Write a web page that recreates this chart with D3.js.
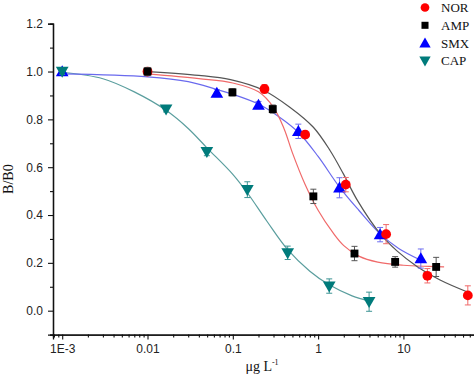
<!DOCTYPE html>
<html>
<head>
<meta charset="utf-8">
<script src="https://cdn.jsdelivr.net/npm/d3@7"></script>
<style>
  html, body { margin: 0; padding: 0; background: #fff; }
</style>
</head>
<body>
<div id="chart"></div>
<script>
// measured points (concentration in ug/L, B/B0, error)
const norX = [0.01, 0.235, 0.705, 2.11, 6.27, 19.1, 56.9]
const norY = [1.0, 0.927, 0.736, 0.527, 0.32, 0.146, 0.064]
const norErr = [0.015, 0.018, 0.015, 0.03, 0.04, 0.03, 0.04]

const ampX = [0.01, 0.099, 0.294, 0.88, 2.67, 8.0, 24.2]
const ampY = [1.0, 0.913, 0.843, 0.478, 0.239, 0.204, 0.183]
const ampErr = [0.017, 0.015, 0.017, 0.03, 0.03, 0.022, 0.04]

const smxX = [0.001, 0.065, 0.2, 0.587, 1.78, 5.33, 16.0]
const smxY = [1.0, 0.91, 0.86, 0.75, 0.514, 0.318, 0.218]
const smxErr = [0.012, 0.015, 0.015, 0.03, 0.042, 0.03, 0.04]

const capX = [0.001, 0.0165, 0.0496, 0.148, 0.44, 1.35, 3.96]
const capY = [1.0, 0.843, 0.665, 0.506, 0.242, 0.103, 0.0375]
const capErr = [0.012, 0.012, 0.017, 0.033, 0.028, 0.03, 0.04]

// fitted lines
const redFitX = [0.01, 0.04, 0.1, 0.2, 0.3, 0.4, 0.5, 0.7, 1.0, 1.5, 2.0, 3.0, 5.0, 10, 20, 30]
const redFitY = [0.99, 0.97, 0.952, 0.915, 0.85, 0.76, 0.66, 0.53, 0.42, 0.325, 0.272, 0.228, 0.203, 0.19, 0.185, 0.183]

const blackFitX = [0.01, 0.04, 0.094, 0.228, 0.47, 0.88, 1.38, 1.98, 2.9, 5.33, 8.4, 14.4, 26.9, 55.4]
const blackFitY = [1.0, 0.984, 0.966, 0.922, 0.85, 0.767, 0.67, 0.572, 0.46, 0.322, 0.25, 0.185, 0.128, 0.079]

const blueFitX = [0.001, 0.01, 0.03, 0.065, 0.1, 0.2, 0.35, 0.59, 1.0, 1.78, 3.0, 5.3, 8.8, 16]
const blueFitY = [0.99, 0.978, 0.958, 0.925, 0.905, 0.864, 0.81, 0.745, 0.645, 0.517, 0.42, 0.322, 0.26, 0.211]

const tealFitX = [0.001, 0.003, 0.007, 0.0165, 0.03, 0.05, 0.1, 0.15, 0.25, 0.44, 0.8, 1.35, 2.5, 4.0]
const tealFitY = [0.997, 0.97, 0.915, 0.838, 0.762, 0.68, 0.57, 0.49, 0.375, 0.255, 0.165, 0.108, 0.062, 0.04]

const xTickVals = [0.001, 0.01, 0.1, 1, 10]
const xTickLabels = ['1E-3', '0.01', '0.1', '1', '10']
const yTickVals = [0.0, 0.2, 0.4, 0.6, 0.8, 1.0, 1.2]
const legendNames = ['NOR', 'AMP', 'SMX', 'CAP']

const width = 474
const height = 375
const marginLeft = 53
const marginTop = 23.7
const marginBottom = 40.4

const svg = d3.select('#chart')
  .append('svg')
  .attr('width', width)
  .attr('height', height)
  .style('background-color', '#fff')

const xScale = d3.scaleLog()
  .domain([0.00078, 70])
  .range([marginLeft, 475.5])

const yScale = d3.scaleLinear()
  .domain([-0.1, 1.2])
  .range([height - marginBottom, marginTop])

// minor ticks
const xMinor = []
for (let e = -4; e <= 1; e++) {
  for (let m = 2; m <= 9; m++) {
    const v = m * Math.pow(10, e)
    if (v >= 0.00078 && v <= 70) xMinor.push(v)
  }
}
const yMinor = [-0.1, 0.1, 0.3, 0.5, 0.7, 0.9, 1.1]

const xAxisY = yScale(-0.1)

svg.append('g')
  .attr('transform', 'translate(0,' + xAxisY + ')')
  .call(d3.axisBottom(xScale).tickValues(xMinor).tickSize(3).tickFormat(''))
svg.append('g')
  .attr('class', 'xmajor')
  .attr('transform', 'translate(0,' + xAxisY + ')')
  .call(d3.axisBottom(xScale).tickValues(xTickVals).tickSize(5).tickPadding(5)
    .tickFormat((d, i) => xTickLabels[i]))

svg.append('g')
  .attr('transform', 'translate(' + marginLeft + ',0)')
  .call(d3.axisLeft(yScale).tickValues(yMinor).tickSize(3).tickFormat(''))
svg.append('g')
  .attr('class', 'ymajor')
  .attr('transform', 'translate(' + marginLeft + ',0)')
  .call(d3.axisLeft(yScale).tickValues(yTickVals).tickSize(5).tickPadding(5)
    .tickFormat(d3.format('.1f')))

svg.selectAll('.domain').attr('stroke', '#111').attr('stroke-width', 1.3)
svg.selectAll('.tick line').attr('stroke', '#111').attr('stroke-width', 1.1)
svg.selectAll('.tick text')
  .attr('font-family', 'Liberation Sans, Arial, sans-serif')
  .attr('font-size', 12)
  .attr('fill', '#222')

// axis titles
const xTitle = svg.append('text')
  .attr('x', 262)
  .attr('y', 371)
  .attr('text-anchor', 'middle')
  .attr('font-family', 'Liberation Serif, Times New Roman, serif')
  .attr('font-size', 14)
  .attr('fill', '#111')
xTitle.append('tspan').text('μg L')
xTitle.append('tspan').attr('font-size', 8).attr('dy', -6).text('-1')

svg.append('text')
  .attr('transform', 'translate(13,' + (yScale(0.55)) + ') rotate(-90)')
  .attr('text-anchor', 'middle')
  .attr('font-family', 'Liberation Serif, Times New Roman, serif')
  .attr('font-size', 14)
  .attr('fill', '#111')
  .text('B/B0')

// fitted curves
const line = d3.line()
  .x(d => xScale(d[0]))
  .y(d => yScale(d[1]))
  .curve(d3.curveCatmullRom.alpha(0.5))

const fits = [
  { x: tealFitX, y: tealFitY, color: '#5a9e9e' },
  { x: blueFitX, y: blueFitY, color: '#6a6aee' },
  { x: redFitX, y: redFitY, color: '#f06a6a' },
  { x: blackFitX, y: blackFitY, color: '#555' }
]
fits.forEach(f => {
  svg.append('path')
    .datum(f.x.map((v, i) => [v, f.y[i]]))
    .attr('d', line)
    .attr('fill', 'none')
    .attr('stroke', f.color)
    .attr('stroke-width', 1.2)
})

// markers and error bars
const series = [
  { name: 'SMX', x: smxX, y: smxY, err: smxErr, color: '#0000ff', bar: '#6f6ff0', symbol: d3.symbolTriangle, size: 70, rot: 0, dy: 1 },
  { name: 'CAP', x: capX, y: capY, err: capErr, color: '#007b7b', bar: '#3e9494', symbol: d3.symbolTriangle, size: 70, rot: 180, dy: -1 },
  { name: 'NOR', x: norX, y: norY, err: norErr, color: '#ff0000', bar: '#f06a6a', symbol: d3.symbolCircle, size: 75, rot: 0, dy: 0 },
  { name: 'AMP', x: ampX, y: ampY, err: ampErr, color: '#000000', bar: '#555', symbol: d3.symbolSquare, size: 62, rot: 0, dy: 0 }
]

series.forEach(s => {
  const pts = s.x.map((v, i) => ({ x: v, y: s.y[i], e: s.err[i] }))
  const g = svg.append('g')
  const bars = g.selectAll('.eb')
    .data(pts)
    .enter()
    .append('g')
  bars.append('line')
    .attr('x1', d => xScale(d.x)).attr('x2', d => xScale(d.x))
    .attr('y1', d => yScale(d.y - d.e)).attr('y2', d => yScale(d.y + d.e))
    .attr('stroke', s.bar).attr('stroke-width', 1)
  bars.append('line')
    .attr('x1', d => xScale(d.x) - 3).attr('x2', d => xScale(d.x) + 3)
    .attr('y1', d => yScale(d.y - d.e)).attr('y2', d => yScale(d.y - d.e))
    .attr('stroke', s.bar).attr('stroke-width', 1)
  bars.append('line')
    .attr('x1', d => xScale(d.x) - 3).attr('x2', d => xScale(d.x) + 3)
    .attr('y1', d => yScale(d.y + d.e)).attr('y2', d => yScale(d.y + d.e))
    .attr('stroke', s.bar).attr('stroke-width', 1)
  g.selectAll('.mk')
    .data(pts)
    .enter()
    .append('path')
    .attr('d', d3.symbol().type(s.symbol).size(s.size))
    .attr('transform', d => 'translate(' + xScale(d.x) + ',' + (yScale(d.y) + s.dy) + ') rotate(' + s.rot + ')')
    .attr('fill', s.color)
})

// legend
const legend = svg.append('g')
legendNames.forEach((name, i) => {
  const s = series.find(d => d.name === name)
  const ly = 7.5 + i * 17.8
  legend.append('path')
    .attr('d', d3.symbol().type(s.symbol).size(s.size * 0.8))
    .attr('transform', 'translate(425,' + (ly + s.dy) + ') rotate(' + s.rot + ')')
    .attr('fill', s.color)
  legend.append('text')
    .attr('x', 441)
    .attr('y', ly)
    .attr('dy', '0.35em')
    .attr('font-family', 'Liberation Serif, Times New Roman, serif')
    .attr('font-size', 13)
    .attr('fill', '#111')
    .text(name)
})
</script>
</body>
</html>
